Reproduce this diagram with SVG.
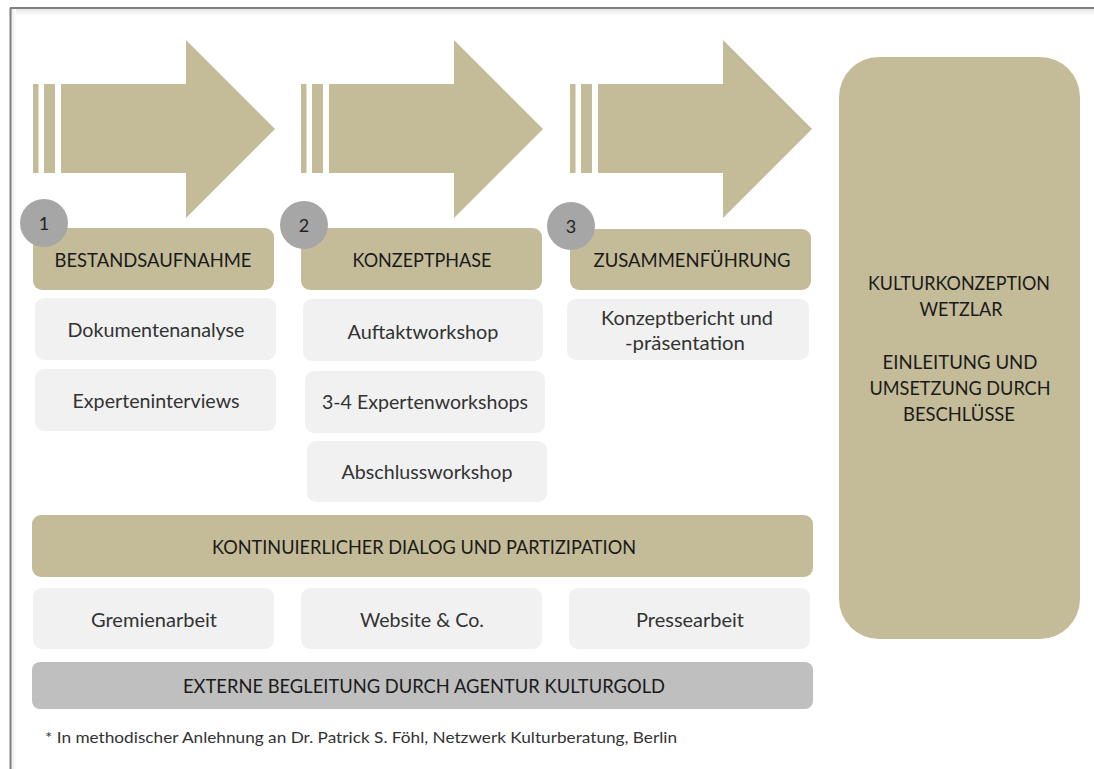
<svg xmlns="http://www.w3.org/2000/svg" width="1094" height="769" viewBox="0 0 1094 769">
  <defs>
    <style>
      .gold { fill: #C4BC98; }
      .light { fill: #F1F1F1; }
      .grey { fill: #BFBFBF; }
      .circ { fill: #A6A6A6; }
      .cap { font-family: Lato, "Liberation Sans", sans-serif; font-size: 19px; fill: #1A1A1A; text-anchor: middle; }
      .txt { font-family: Lato, "Liberation Sans", sans-serif; font-size: 20px; fill: #333333; text-anchor: middle; }
      .num { font-family: Lato, "Liberation Sans", sans-serif; font-size: 18px; fill: #222222; text-anchor: middle; }
      .foot { font-family: Lato, "Liberation Sans", sans-serif; font-size: 15px; fill: #333333; }
    </style>
    <linearGradient id="shTop" x1="0" y1="0" x2="0" y2="1">
      <stop offset="0" stop-color="#E6E6E6"/>
      <stop offset="1" stop-color="#FFFFFF"/>
    </linearGradient>
    <linearGradient id="shLeft" x1="0" y1="0" x2="1" y2="0">
      <stop offset="0" stop-color="#E9E9E9"/>
      <stop offset="1" stop-color="#FFFFFF"/>
    </linearGradient>
    <g id="arrow">
      <rect x="0" y="84" width="5.5" height="89"/>
      <rect x="11" y="84" width="11" height="89"/>
      <polygon points="28,84 153,84 153,40 242,129 153,218 153,173 28,173"/>
    </g>
  </defs>

  <rect x="0" y="0" width="1094" height="769" fill="#FFFFFF"/>
  <!-- frame -->
  <g id="frame">
    <rect x="11" y="9" width="1083" height="7" fill="url(#shTop)"/>
    <rect x="11" y="9" width="5" height="760" fill="url(#shLeft)"/>
    <line x1="10.5" y1="8" x2="10.5" y2="769" stroke="#7F7F7F" stroke-width="2"/>
    <line x1="10" y1="8" x2="1094" y2="8" stroke="#7F7F7F" stroke-width="2"/>
  </g>

  <!-- arrows -->
  <g id="connectors" class="gold">
    <use href="#arrow" x="33" y="0"/>
    <use href="#arrow" x="301" y="0"/>
    <use href="#arrow" x="570" y="0"/>
  </g>

  <!-- phase 1 -->
  <g id="phase1">
    <rect class="gold" x="33" y="228" width="241" height="62" rx="9"/>
    <text class="cap" x="153" y="267" textLength="197" lengthAdjust="spacingAndGlyphs">BESTANDSAUFNAHME</text>
    <circle class="circ" cx="44" cy="223" r="24"/>
    <text class="num" x="44" y="230">1</text>
  </g>
  <g id="dokumentenanalyse">
    <rect class="light" x="35" y="298" width="241" height="62" rx="9"/>
    <text class="txt" x="156" y="337" textLength="177" lengthAdjust="spacingAndGlyphs">Dokumentenanalyse</text>
  </g>
  <g id="experteninterviews">
    <rect class="light" x="35" y="369" width="241" height="62" rx="9"/>
    <text class="txt" x="156" y="408" textLength="167" lengthAdjust="spacingAndGlyphs">Experteninterviews</text>
  </g>

  <!-- phase 2 -->
  <g id="phase2">
    <rect class="gold" x="301" y="228" width="241" height="62" rx="9"/>
    <text class="cap" x="422" y="267" textLength="139" lengthAdjust="spacingAndGlyphs">KONZEPTPHASE</text>
    <circle class="circ" cx="304" cy="225" r="24"/>
    <text class="num" x="304" y="232">2</text>
  </g>
  <g id="auftaktworkshop">
    <rect class="light" x="303" y="299" width="240" height="62" rx="9"/>
    <text class="txt" x="423" y="339" textLength="151" lengthAdjust="spacingAndGlyphs">Auftaktworkshop</text>
  </g>
  <g id="expertenworkshops">
    <rect class="light" x="305" y="371" width="240" height="62" rx="9"/>
    <text class="txt" x="425" y="409" textLength="206" lengthAdjust="spacingAndGlyphs">3-4 Expertenworkshops</text>
  </g>
  <g id="abschlussworkshop">
    <rect class="light" x="307" y="441" width="240" height="61" rx="9"/>
    <text class="txt" x="427" y="479" textLength="171" lengthAdjust="spacingAndGlyphs">Abschlussworkshop</text>
  </g>

  <!-- phase 3 -->
  <g id="phase3">
    <rect class="gold" x="570" y="229" width="241" height="61" rx="9"/>
    <text class="cap" x="692" y="267" textLength="197" lengthAdjust="spacingAndGlyphs">ZUSAMMENFÜHRUNG</text>
    <circle class="circ" cx="571" cy="226" r="24"/>
    <text class="num" x="571" y="233">3</text>
  </g>
  <g id="konzeptbericht">
    <rect class="light" x="567" y="299" width="242" height="61" rx="9"/>
    <text class="txt" x="687" y="325" textLength="172" lengthAdjust="spacingAndGlyphs">Konzeptbericht und</text>
    <text class="txt" x="685" y="350" textLength="120" lengthAdjust="spacingAndGlyphs">-präsentation</text>
  </g>

  <!-- dialog -->
  <g id="dialog">
    <rect class="gold" x="32" y="515" width="781" height="62" rx="9"/>
    <text class="cap" x="424" y="554" textLength="424" lengthAdjust="spacingAndGlyphs">KONTINUIERLICHER DIALOG UND PARTIZIPATION</text>
  </g>
  <g id="gremienarbeit">
    <rect class="light" x="33" y="588" width="241" height="61" rx="9"/>
    <text class="txt" x="154" y="627" textLength="126" lengthAdjust="spacingAndGlyphs">Gremienarbeit</text>
  </g>
  <g id="website">
    <rect class="light" x="301" y="588" width="241" height="61" rx="9"/>
    <text class="txt" x="422" y="627" textLength="124" lengthAdjust="spacingAndGlyphs">Website &amp; Co.</text>
  </g>
  <g id="pressearbeit">
    <rect class="light" x="569" y="588" width="241" height="61" rx="9"/>
    <text class="txt" x="690" y="627" textLength="108" lengthAdjust="spacingAndGlyphs">Pressearbeit</text>
  </g>

  <!-- external -->
  <g id="extern">
    <rect class="grey" x="32" y="662" width="781" height="47" rx="8"/>
    <text class="cap" x="424" y="693" textLength="482" lengthAdjust="spacingAndGlyphs">EXTERNE BEGLEITUNG DURCH AGENTUR KULTURGOLD</text>
  </g>

  <!-- result -->
  <g id="kulturkonzeption">
    <rect class="gold" x="839" y="57" width="241" height="582" rx="40"/>
    <text class="cap" x="959" y="290" textLength="182" lengthAdjust="spacingAndGlyphs">KULTURKONZEPTION</text>
    <text class="cap" x="961" y="316" textLength="83" lengthAdjust="spacingAndGlyphs">WETZLAR</text>
    <text class="cap" x="960" y="369" textLength="155" lengthAdjust="spacingAndGlyphs">EINLEITUNG UND</text>
    <text class="cap" x="960" y="395" textLength="181" lengthAdjust="spacingAndGlyphs">UMSETZUNG DURCH</text>
    <text class="cap" x="959" y="421" textLength="112" lengthAdjust="spacingAndGlyphs">BESCHLÜSSE</text>
  </g>

  <!-- footnote -->
  <text class="foot" x="45" y="743" textLength="632" lengthAdjust="spacingAndGlyphs">* In methodischer Anlehnung  an Dr. Patrick S. Föhl, Netzwerk Kulturberatung, Berlin</text>
</svg>
